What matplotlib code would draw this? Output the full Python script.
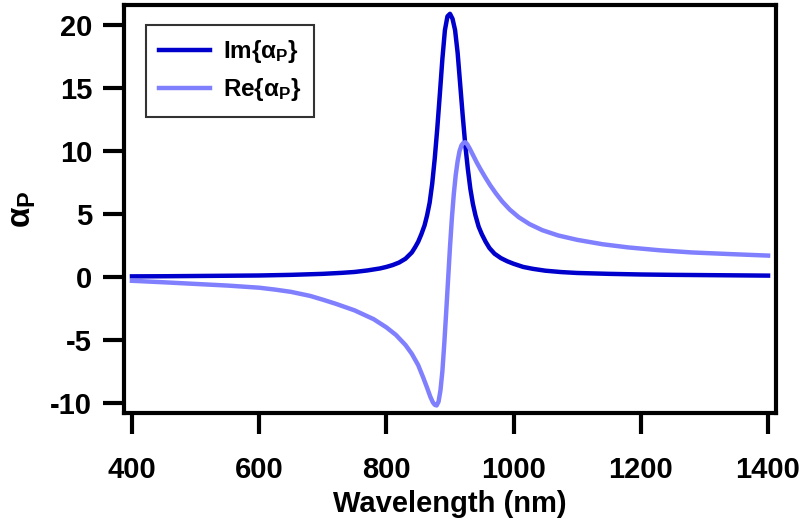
import matplotlib
matplotlib.use("Agg")
import matplotlib.pyplot as plt

plt.rcParams['font.family'] = ['Liberation Sans', 'DejaVu Sans']
plt.rcParams['font.weight'] = 'bold'
plt.rcParams['axes.unicode_minus'] = False
plt.rcParams['mathtext.fontset'] = 'custom'
plt.rcParams['mathtext.rm'] = 'Liberation Sans'
plt.rcParams['mathtext.it'] = 'Liberation Sans'
plt.rcParams['mathtext.bf'] = 'Liberation Sans:bold'

# Im{alpha_P}
im_wl = [400, 450, 500, 550, 600, 650, 700, 730, 750, 770, 790, 800, 810, 820,
         830, 840, 845, 850, 855, 860, 864, 868, 872, 876, 880, 884, 888, 892,
         896, 900, 904, 908, 912, 916, 920, 924, 928, 932, 936, 940, 945, 950,
         956, 962, 970, 980, 990, 1000, 1015, 1030, 1050, 1075, 1100, 1150,
         1200, 1250, 1300, 1350, 1400]
im_val = [0.05, 0.06, 0.08, 0.1, 0.12, 0.17, 0.25, 0.33, 0.4, 0.52, 0.68, 0.8,
          0.95, 1.15, 1.45, 1.95, 2.35, 2.8, 3.4, 4.1, 4.9, 5.9, 7.4, 9.4, 11.8,
          14.5, 17.3, 19.6, 20.7, 20.9, 20.5, 19.6, 17.8, 15.3, 12.8, 10.5, 8.6,
          7.0, 5.8, 4.9, 4.0, 3.4, 2.8, 2.3, 1.85, 1.5, 1.25, 1.05, 0.8, 0.65,
          0.5, 0.39, 0.32, 0.25, 0.2, 0.17, 0.15, 0.13, 0.11]

# Re{alpha_P}
re_wl = [400, 450, 500, 550, 600, 625, 650, 680, 700, 720, 750, 780, 800, 815,
         830, 840, 850, 858, 864, 869, 873, 876, 879, 882, 885, 888, 891, 894,
         897, 900, 903, 906, 909, 912, 915, 918, 921, 924, 927, 931, 936, 942,
         948, 955, 963, 972, 982, 994, 1008, 1025, 1045, 1070, 1100, 1140,
         1180, 1230, 1280, 1340, 1400]
re_val = [-0.3, -0.42, -0.55, -0.68, -0.85, -1.0, -1.18, -1.5, -1.8, -2.12,
          -2.65, -3.35, -4.0, -4.6, -5.4, -6.1, -7.0, -8.0, -8.8, -9.5, -9.95,
          -10.15, -10.2, -9.9, -9.0, -7.5, -5.3, -2.8, -0.2, 2.4, 4.7, 6.6, 8.1,
          9.2, 10.0, 10.45, 10.65, 10.7, 10.55, 10.2, 9.7, 9.1, 8.55, 7.95,
          7.3, 6.65, 6.0, 5.35, 4.75, 4.2, 3.72, 3.3, 2.95, 2.6, 2.35, 2.12,
          1.95, 1.82, 1.7]

x_ticks = [400, 600, 800, 1000, 1200, 1400]
y_ticks = [-10, -5, 0, 5, 10, 15, 20]

fig = plt.figure(figsize=(8.05, 5.23), dpi=100)
ax = fig.add_axes([124/805, 1 - 413/523, (776 - 124)/805, (413 - 5)/523])

ax.plot(im_wl, im_val, color='#0000CC', lw=3.2, label=r'Im{$\alpha_\mathbf{P}$}',
        solid_joinstyle='round')
ax.plot(re_wl, re_val, color='#8080FF', lw=3.2, label=r'Re{$\alpha_\mathbf{P}$}',
        solid_joinstyle='round')

ax.set_xlim(387.5, 1412.5)
ax.set_ylim(-10.8, 21.6)
ax.set_xticks(x_ticks)
ax.set_yticks(y_ticks)

for s in ax.spines.values():
    s.set_linewidth(3)
ax.tick_params(axis='both', which='major', direction='out', length=15,
               width=3, labelsize=21)
ax.tick_params(axis='x', pad=16)
ax.tick_params(axis='y', pad=8)
for lab in ax.get_xticklabels() + ax.get_yticklabels():
    lab.set_fontweight('bold')

ax.set_xlabel('Wavelength (nm)', fontsize=21, fontweight='bold', labelpad=4)
ax.set_ylabel(r'$\alpha_\mathbf{P}$', fontsize=24, labelpad=9)

leg = ax.legend(loc='upper left', bbox_to_anchor=(22/652, 1 - 20/408),
                fontsize=17.5, frameon=True, fancybox=False, handlelength=2.1,
                handletextpad=0.5, borderpad=0.55, labelspacing=0.45,
                borderaxespad=0)
leg.get_frame().set_edgecolor('black')
leg.get_frame().set_linewidth(1.5)
for t in leg.get_texts():
    t.set_fontweight('bold')

fig.savefig('out.png', dpi=100)
